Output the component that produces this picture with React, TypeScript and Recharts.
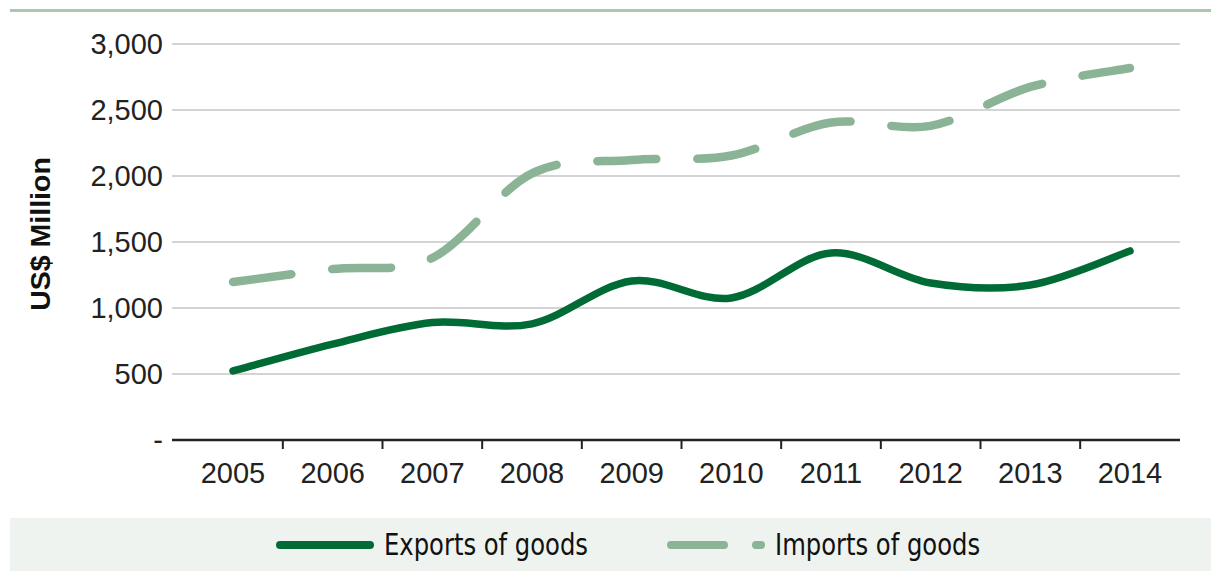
import * as React from "react";
import { CartesianGrid, Legend, Line, LineChart, XAxis, YAxis } from "recharts";

const YEARS = ["2005", "2006", "2007", "2008", "2009", "2010", "2011", "2012", "2013", "2014"];
const EXPORTS = [523, 727, 890, 880, 1205, 1076, 1417, 1189, 1174, 1432];
const IMPORTS = [1197, 1295, 1379, 2020, 2121, 2155, 2405, 2380, 2675, 2818];
const Y_TICKS = [0, 500, 1000, 1500, 2000, 2500, 3000];

const data = YEARS.map((year, i) => ({
  year,
  exports: EXPORTS[i],
  imports: IMPORTS[i],
}));

const FONT = "'Liberation Sans', Arial, Helvetica, sans-serif";
const NARROW = "'Liberation Sans Narrow', 'Arial Narrow', 'DejaVu Sans Condensed', sans-serif";
const DARK = "#006b35";
const LIGHT = "#8bb497";

const PLOT_W = 1008;
const PAD_L = 61;
const PAD_R = 50;
const HALF_BAND = (PLOT_W - PAD_L - PAD_R) / (YEARS.length - 1) / 2;

// Excel-style smoothing (uniform Catmull-Rom as cubic beziers)
const excelSmooth = (context: any) => {
  let pts: [number, number][] = [];
  return {
    areaStart() {},
    areaEnd() {},
    lineStart() {
      pts = [];
    },
    point(x: number, y: number) {
      pts.push([+x, +y]);
    },
    lineEnd() {
      if (!pts.length) return;
      context.moveTo(pts[0][0], pts[0][1]);
      for (let i = 0; i < pts.length - 1; i++) {
        const p0 = pts[i - 1] ?? pts[i];
        const p1 = pts[i];
        const p2 = pts[i + 1];
        const p3 = pts[i + 2] ?? pts[i + 1];
        context.bezierCurveTo(
          p1[0] + (p2[0] - p0[0]) / 6,
          p1[1] + (p2[1] - p0[1]) / 6,
          p2[0] - (p3[0] - p1[0]) / 6,
          p2[1] - (p3[1] - p1[1]) / 6,
          p2[0],
          p2[1]
        );
      }
    },
  };
};

const XTick = (props: any) => {
  const { x, y, payload, index } = props;
  return (
    <g>
      <text x={x} y={y + 43} textAnchor="middle" fontSize={29} fill="#222" fontFamily={FONT}>
        {payload.value}
      </text>
      {index < YEARS.length - 1 && (
        <line x1={x + HALF_BAND} x2={x + HALF_BAND} y1={y} y2={y + 9} stroke="#222" strokeWidth={2} />
      )}
    </g>
  );
};

const YTitle = () => (
  <text
    transform="translate(50,234) rotate(-90)"
    textAnchor="middle"
    fontSize={28.5}
    fontWeight="bold"
    fill="#111"
    fontFamily={FONT}
  >
    US$ Million
  </text>
);

const LegendContent = (props: any) => {
  const { payload = [] } = props;
  const starts = [266, 657];
  return (
    <div style={{ position: "relative", width: "100%", height: "100%" }}>
      {payload.map((entry: any, i: number) => {
        const dashed = entry.dataKey === "imports";
        return (
          <div
            key={entry.value}
            style={{
              position: "absolute",
              left: starts[i],
              top: 0,
              height: 53,
              display: "flex",
              alignItems: "center",
              whiteSpace: "nowrap",
            }}
          >
            <svg width={98} height={12} style={{ marginRight: 10 }}>
              <line
                x1={4}
                x2={94}
                y1={6}
                y2={6}
                stroke={entry.color}
                strokeWidth={8}
                strokeLinecap="round"
                strokeDasharray={dashed ? "53 32 5 100" : undefined}
              />
            </svg>
            <span
              style={{
                display: "inline-block",
                fontFamily: NARROW,
                fontSize: 31,
                color: "#111",
                lineHeight: "53px",
                transform: "scaleX(0.87)",
                transformOrigin: "left center",
              }}
            >
              {entry.value}
            </span>
          </div>
        );
      })}
    </div>
  );
};

export default function App() {
  return (
    <div style={{ position: "absolute", left: 0, top: 0, width: 1211, height: 575, background: "#fff" }}>
      <div style={{ position: "absolute", left: 10, top: 9, width: 1201, height: 3, background: "#a9c8ae" }} />
      <LineChart
        width={1211}
        height={575}
        data={data}
        margin={{ top: 44, right: 31, bottom: 75, left: 82 }}
      >
        <CartesianGrid vertical={false} stroke="#c6c6c6" strokeWidth={1.5} />
        <XAxis
          dataKey="year"
          height={60}
          interval={0}
          padding={{ left: PAD_L, right: PAD_R }}
          axisLine={{ stroke: "#222", strokeWidth: 2.5 }}
          tickLine={false}
          tickSize={0}
          tickMargin={0}
          tick={<XTick />}
        />
        <YAxis
          width={90}
          domain={[0, 3000]}
          ticks={Y_TICKS}
          interval={0}
          axisLine={false}
          tickLine={false}
          tickSize={0}
          tickMargin={9}
          tick={{ fontSize: 29, fill: "#222", fontFamily: FONT }}
          tickFormatter={(v: number) => (v === 0 ? "-" : v.toLocaleString("en-US"))}
          label={{ content: <YTitle /> }}
        />
        <Legend
          layout="horizontal"
          verticalAlign="middle"
          align="center"
          content={<LegendContent />}
          wrapperStyle={{ left: 10, top: 518, width: 1201, height: 53, background: "#eef3ef" }}
        />
        <Line
          name="Exports of goods"
          dataKey="exports"
          type={excelSmooth as any}
          stroke={DARK}
          strokeWidth={7.5}
          strokeLinecap="round"
          dot={false}
          activeDot={false}
          isAnimationActive={false}
        />
        <Line
          name="Imports of goods"
          dataKey="imports"
          type={excelSmooth as any}
          stroke={LIGHT}
          strokeWidth={8.5}
          strokeLinecap="round"
          strokeDasharray="59 41"
          dot={false}
          activeDot={false}
          isAnimationActive={false}
        />
      </LineChart>
    </div>
  );
}
